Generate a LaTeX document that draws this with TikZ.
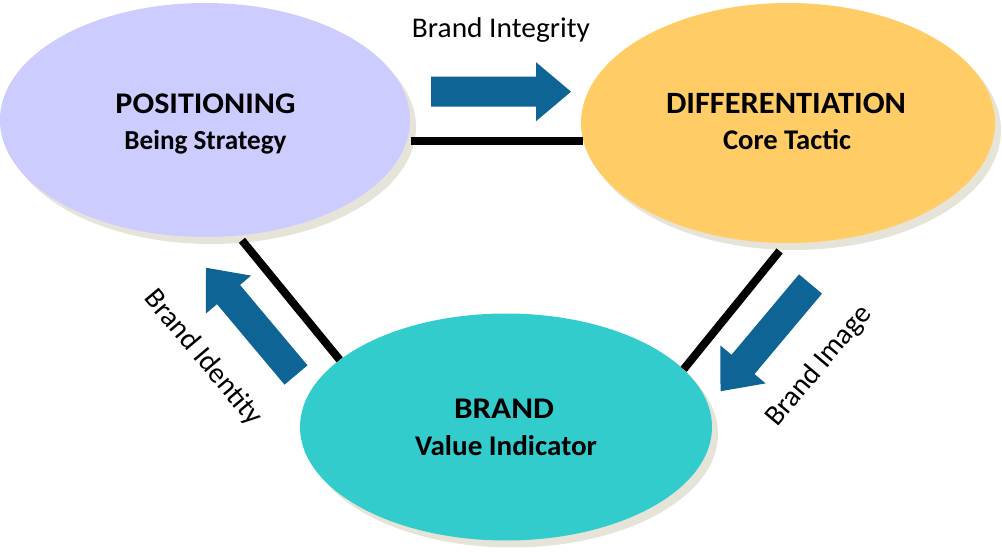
\documentclass[tikz,border=0pt]{standalone}
\usepackage{graphicx}
\usepackage{fontspec}
\setmainfont{Carlito}
\usetikzlibrary{shapes.geometric,shadows}
\definecolor{posc}{HTML}{CCCCFF}
\definecolor{diffc}{HTML}{FFCC66}
\definecolor{brandc}{HTML}{33CCCC}
\definecolor{shadc}{HTML}{E6E4D9}
\definecolor{arrc}{HTML}{0F6496}
\newcommand\fitw[3]{\resizebox{#1pt}{\height}{\fontsize{#2}{#2}\selectfont #3}}
\newcommand\fsz[2]{\fontsize{#1}{#1}\selectfont #2}
\begin{document}
\begin{tikzpicture}[x=1pt,y=-1pt,
  oval/.style={ellipse, inner sep=0pt, general shadow={fill=shadc, shadow xshift=6pt, shadow yshift=-7pt}},
  link/.style={line width=8pt, black},
  head/.style={font=\bfseries, anchor=base, inner sep=0pt},
  lbl/.style={anchor=center, inner sep=0pt},
  bigarrow/.pic={\fill[arrc] (0,-15) -- (105,-15) -- (105,-29.5) -- (140,0) -- (105,29.5) -- (105,15) -- (0,15) -- cycle;}
]
\useasboundingbox (0,0) rectangle (1002,553);
\fill[white] (0,0) rectangle (1002,553);

% ellipses
\node[oval, fill=posc, minimum width=410pt, minimum height=234pt] (pos) at (205,120) {};
\node[oval, fill=diffc, minimum width=414pt, minimum height=240pt] (diff) at (788,123) {};
\node[oval, fill=brandc, minimum width=412pt, minimum height=227pt] (brand) at (506,427) {};

% texts in ellipses
\node[head] (posT) at (205.5,114) {\fitw{180}{30}{POSITIONING}};
\node[head] (posS) at (205.5,150) {\fitw{162}{27.5}{Being Strategy}};
\node[head] (diffT) at (786,114) {\fitw{240}{31}{DIFFERENTIATION}};
\node[head] (diffS) at (787,150) {\fitw{128}{28.5}{Core Tactic}};
\node[head] (brandT) at (504,419) {\fitw{100}{30}{BRAND}};
\node[head] (brandS) at (506,456) {\fitw{182}{28.5}{Value Indicator}};

% connectors
\draw[link, shorten <=4pt] (pos.-6) -- (diff.-175 |- pos.-6);
\draw[link, shorten <=6pt] (pos.-74) -- (brand.158.6);
\draw[link, shorten <=10pt] (diff.-91) -- (brand.18.4);

% blue arrows
\pic[rotate=0] at (431,91.7) {bigarrow};
\pic[rotate=130] at (296,375) {bigarrow};
\pic[rotate=230] at (810.5,284) {bigarrow};

% labels
\node[anchor=base, inner sep=0pt] (integ) at (501,37.3) {\fitw{178}{28.5}{Brand Integrity}};
\node[lbl, rotate=-50] (ident) at (203,358) {\fsz{29}{Brand Identity}};
\node[lbl, rotate=50] (image) at (819,366) {\fsz{29}{Brand Image}};
\end{tikzpicture}
\end{document}
